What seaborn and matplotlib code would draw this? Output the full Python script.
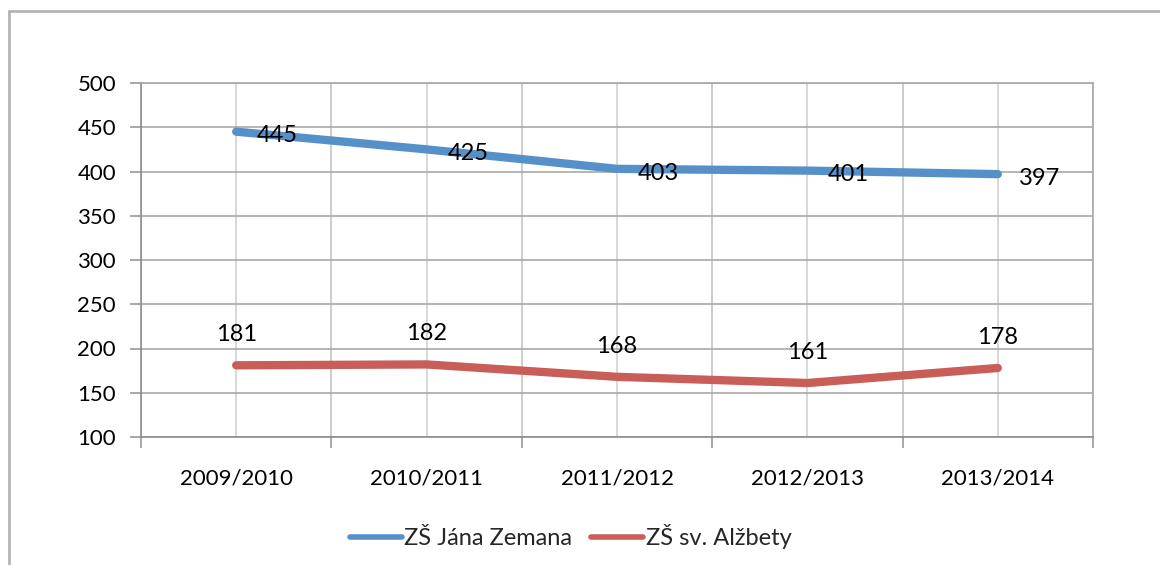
import matplotlib
matplotlib.use("Agg")
import matplotlib.pyplot as plt
from matplotlib.patches import Rectangle
import seaborn as sns
import pandas as pd

years = ["2009/2010", "2010/2011", "2011/2012", "2012/2013", "2013/2014"]
zemana = [445, 425, 403, 401, 397]
alzbety = [181, 182, 168, 161, 178]
series_names = ["ZŠ Jána Zemana", "ZŠ sv. Alžbety"]
colors = ["#5690C8", "#C95E58"]
y_ticks = [100, 150, 200, 250, 300, 350, 400, 450, 500]

df = pd.DataFrame({
    "year": years * 2,
    "value": zemana + alzbety,
    "school": [series_names[0]] * len(years) + [series_names[1]] * len(years),
})

sns.set_theme(style="white")
plt.rcParams["font.family"] = ["Lato", "DejaVu Sans"]

fig = plt.figure(figsize=(11.6, 5.65), dpi=100)
ax = fig.add_axes([141 / 1160, 1 - 437 / 565, (1093 - 141) / 1160, (437 - 83) / 565])

sns.lineplot(data=df, x="year", y="value", hue="school", palette=colors,
             linewidth=6, ax=ax, sort=False, legend=False,
             solid_capstyle="round")

ax.set_xlim(-0.5, len(years) - 0.5)
ax.set_ylim(100, 500)
ax.set_yticks(y_ticks)
ax.set_xticks(range(len(years)))
ax.set_xticklabels(years)
ax.set_xticks([i - 0.5 for i in range(len(years) + 1)], minor=True)
ax.set_xlabel("")
ax.set_ylabel("")

ax.tick_params(axis="y", which="major", length=8, width=1.2, color="#9a9a9a",
               direction="out", left=True, pad=10, labelsize=16, labelcolor="black")
ax.tick_params(axis="x", which="major", length=0, pad=23, labelsize=16, labelcolor="black")
ax.tick_params(axis="x", which="minor", length=8, width=1.2, color="#9a9a9a",
               direction="out", bottom=True)

ax.grid(axis="y", which="major", color="#a8a8a8", linewidth=1.2)
ax.grid(axis="x", which="major", color="#d2d2d2", linewidth=1.2)
ax.grid(axis="x", which="minor", color="#c4c4c4", linewidth=1.2)
ax.set_axisbelow(True)

for side, sp in ax.spines.items():
    sp.set_visible(True)
    sp.set_color("#a8a8a8")
    sp.set_linewidth(1.2)
ax.spines["left"].set_color("#8c8c8c")
ax.spines["bottom"].set_color("#8c8c8c")

for i, v in enumerate(zemana):
    ax.annotate(str(v), (i, v), xytext=(15, -3), textcoords="offset points",
                ha="left", va="center", fontsize=17, color="black")
for i, v in enumerate(alzbety):
    ax.annotate(str(v), (i, v), xytext=(0, 22), textcoords="offset points",
                ha="center", va="center", fontsize=17, color="black")

handles = [plt.Line2D([0], [0], color=c, linewidth=4, solid_capstyle="round") for c in colors]
fig.legend(handles, series_names, loc="center", bbox_to_anchor=(0.492, 0.05),
           ncol=2, frameon=False, fontsize=17, handlelength=2.2,
           handletextpad=0.1, columnspacing=0.8)

fig.patches.append(Rectangle((9 / 1160, -0.1), 1.2, 1 - 11 / 565 + 0.1,
                             transform=fig.transFigure, fill=False,
                             edgecolor="#b4b4b4", linewidth=2, zorder=-1))

fig.savefig("out.png", dpi=100)
